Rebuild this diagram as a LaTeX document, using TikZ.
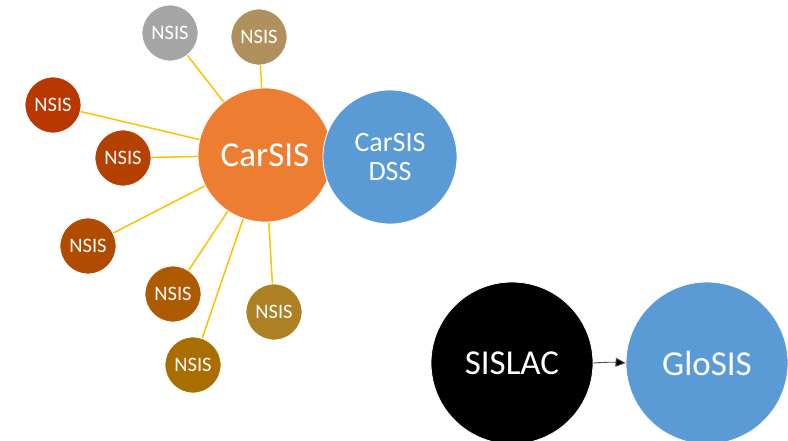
\documentclass[tikz,border=0pt]{standalone}
\usepackage{fontspec}
\setmainfont{Carlito}
\usetikzlibrary{arrows.meta}
\definecolor{cgray}{HTML}{A5A5A5}
\definecolor{ctan}{HTML}{B0915E}
\definecolor{cred1}{HTML}{B93700}
\definecolor{cred2}{HTML}{B44100}
\definecolor{cred3}{HTML}{B04B00}
\definecolor{cred4}{HTML}{AE5A00}
\definecolor{cred5}{HTML}{AA6E00}
\definecolor{cred6}{HTML}{AD8023}
\definecolor{corange}{HTML}{ED7D31}
\definecolor{cblue}{HTML}{5B9BD5}
\definecolor{cyellow}{HTML}{FFC000}
\tikzset{
  bubble/.style={circle, draw=white, line width=0.8pt, inner sep=0pt, text=white},
  small/.style={bubble, minimum size=56pt, font=\fontsize{20.5}{22}\selectfont},
  big/.style={bubble, minimum size=134pt, font=\fontsize{35}{40}\selectfont},
  huge/.style={bubble, minimum size=162pt, font=\fontsize{35}{40}\selectfont},
  spoke/.style={draw=cyellow, line width=1.5pt},
}
\begin{document}
\begin{tikzpicture}[x=1pt,y=1pt]
\useasboundingbox (0,0) rectangle (788,-440);
\node[big, fill=corange] (carsis) at (265,-155) {CarSIS};
\node[big, fill=cblue, align=center, font=\fontsize{28}{29}\selectfont] (dss) at (390,-157) {CarSIS\\DSS};
\node[small, fill=cgray] (n1) at (170,-33) {NSIS};
\node[small, fill=ctan] (n2) at (259,-37) {NSIS};
\node[small, fill=cred1] (n3) at (53,-105) {NSIS};
\node[small, fill=cred2] (n4) at (123,-158) {NSIS};
\node[small, fill=cred3] (n5) at (88,-246) {NSIS};
\node[small, fill=cred4] (n6) at (173,-294) {NSIS};
\node[small, fill=cred5] (n7) at (193,-365) {NSIS};
\node[small, fill=cred6] (n8) at (274,-312) {NSIS};
\foreach \n in {n1,n2,n3,n4,n5,n6,n7,n8} {\draw[spoke] (\n) -- (carsis);}
\node[huge, fill=black] (sislac) at (512,-363) {SISLAC};
\node[huge, fill=cblue] (glosis) at (707,-363) {GloSIS};
\draw[draw=black!70, line width=0.9pt, -{Triangle[length=10pt,width=9pt,fill=black]}] (sislac.east) to[bend left=4] (glosis.west);
\end{tikzpicture}
\end{document}
